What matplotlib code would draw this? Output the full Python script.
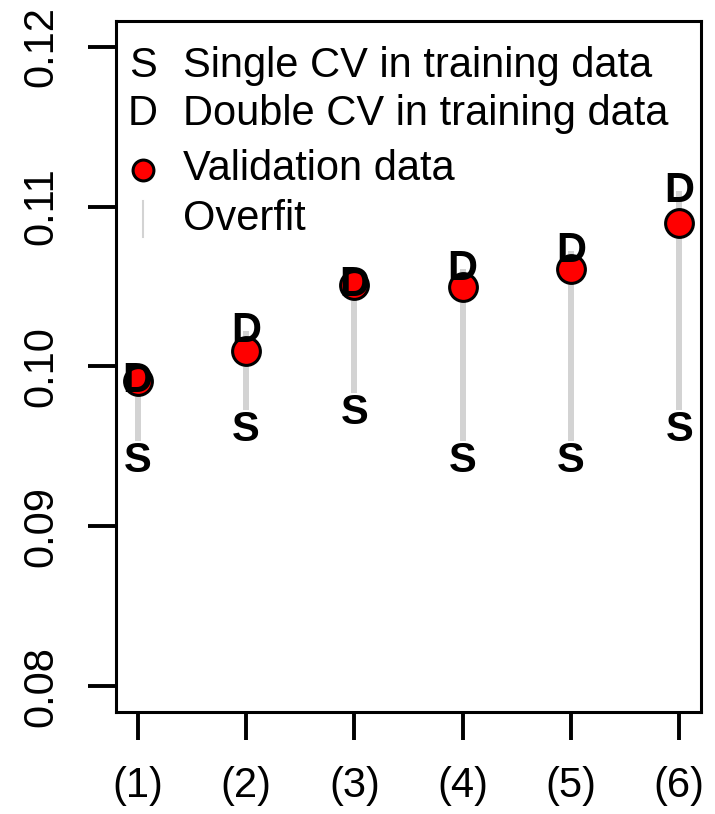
import matplotlib
matplotlib.use("Agg")
import matplotlib.pyplot as plt

plt.rcParams['font.family'] = ['Liberation Sans', 'DejaVu Sans']

labels = ["(1)", "(2)", "(3)", "(4)", "(5)", "(6)"]
single_cv = [0.0941, 0.0960, 0.0971, 0.0941, 0.0941, 0.0960]
double_cv = [0.0991, 0.1022, 0.1051, 0.1061, 0.1072, 0.1110]
validation = [0.0991, 0.1010, 0.1051, 0.1050, 0.1061, 0.1090]
y_ticks = [0.08, 0.09, 0.10, 0.11, 0.12]

GREY = "#d3d3d3"
FS = 30

fig = plt.figure(figsize=(7.15, 8.14), dpi=100, facecolor="white")
ax = fig.add_axes([116 / 715, 1 - 712 / 814, 585 / 715, 691 / 814])

xs = range(1, len(labels) + 1)
for x, s, d, v in zip(xs, single_cv, double_cv, validation):
    # overfit segment from single CV up to double CV
    ax.plot([x, x], [s, d], color=GREY, lw=4.3, solid_capstyle="butt", zorder=1)
    ax.text(x, s, "S", fontsize=FS, fontweight="bold", ha="center", va="center",
            zorder=4, bbox=dict(facecolor="white", edgecolor="none", pad=0))
    ax.plot(x, v, "o", ms=20, mfc="red", mec="black", mew=2.2, zorder=2)
    ax.text(x, d, "D", fontsize=FS, fontweight="bold", ha="center", va="center",
            zorder=3)

# legend drawn by hand (no frame, as in R's bty="n")
sym_x, txt_x = 0.046, 0.1145
rows = [0.9350, 0.8655, 0.7860, 0.7140]
ax.text(sym_x, rows[0], "S", fontsize=FS, ha="center", va="center", transform=ax.transAxes)
ax.text(sym_x, rows[1], "D", fontsize=FS, ha="center", va="center", transform=ax.transAxes)
ax.plot(sym_x, rows[2] - 0.002, "o", ms=15, mfc="red", mec="black", mew=2.2,
        transform=ax.transAxes)
ax.plot([sym_x, sym_x], [rows[3] - 0.026, rows[3] + 0.026], color=GREY, lw=1.5,
        transform=ax.transAxes)
legend_txt = ["Single CV in training data", "Double CV in training data",
              "Validation data", "Overfit"]
for y, t in zip(rows, legend_txt):
    ax.text(txt_x, y, t, fontsize=FS, ha="left", va="center", transform=ax.transAxes)

ax.set_xlim(0.8, 6.2)
ax.set_ylim(0.0784, 0.1216)
ax.set_xticks(list(xs))
ax.set_xticklabels(labels)
ax.set_yticks(y_ticks)
ax.set_yticklabels([f"{t:.2f}" for t in y_ticks], rotation=90, va="center")

for sp in ax.spines.values():
    sp.set_linewidth(2.2)
ax.tick_params(axis="both", length=20, width=2.8, labelsize=FS)
ax.tick_params(axis="x", pad=19)
ax.tick_params(axis="y", pad=19)

fig.savefig("out.png", dpi=100, facecolor="white")
